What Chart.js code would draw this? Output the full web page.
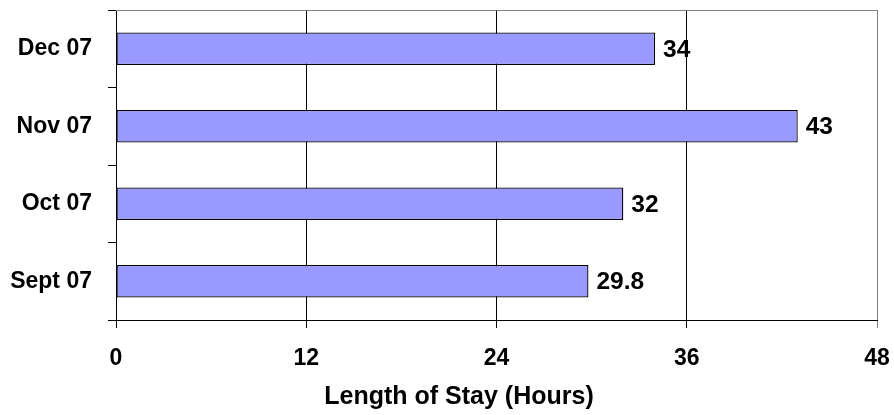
<!DOCTYPE html>
<html>
<head>
<meta charset="utf-8">
<script src="https://cdn.jsdelivr.net/npm/chart.js@4/dist/chart.umd.min.js"></script>
<style>
  html, body { margin: 0; padding: 0; background: #fff; }
  #wrap { width: 894px; height: 415px; position: relative; }
</style>
</head>
<body>
<div id="wrap"><canvas id="c"></canvas></div>
<script>
// Monthly average length of stay, newest month on top
const months = ['Dec 07', 'Nov 07', 'Oct 07', 'Sept 07'];
const stayHours = [34, 43, 32, 29.8];
const xTicks = [0, 12, 24, 36, 48];
const axisTitle = 'Length of Stay (Hours)';

const FONT = '"Liberation Sans", Arial, Helvetica, sans-serif';

// Keep the plot area fixed: drop the extra room scales ask for around edge labels
function clearEdgePadding(scale) {
  scale.paddingTop = 0;
  scale.paddingBottom = 0;
  scale.paddingLeft = 0;
  scale.paddingRight = 0;
}

// Gray frame along the top of the plot area
const topFrame = {
  id: 'topFrame',
  beforeDatasetsDraw(chart) {
    const { ctx, chartArea: a } = chart;
    ctx.save();
    ctx.strokeStyle = '#808080';
    ctx.lineWidth = 1;
    ctx.beginPath();
    ctx.moveTo(a.left, a.top + 0.5);
    ctx.lineTo(a.right + 0.5, a.top + 0.5);
    ctx.stroke();
    ctx.restore();
  }
};

// Value written just past the end of each bar
const valueLabels = {
  id: 'valueLabels',
  afterDatasetsDraw(chart) {
    const { ctx } = chart;
    const meta = chart.getDatasetMeta(0);
    const data = chart.data.datasets[0].data;
    ctx.save();
    ctx.font = 'bold 24.5px ' + FONT;
    ctx.fillStyle = '#000';
    ctx.textAlign = 'left';
    ctx.textBaseline = 'middle';
    meta.data.forEach((bar, i) => {
      ctx.fillText(String(data[i]), bar.x + 8, bar.y + 1);
    });
    ctx.restore();
  }
};

// Value-axis caption, centred under the whole chart rather than the plot area
const xCaption = {
  id: 'xCaption',
  afterDraw(chart) {
    const { ctx, width } = chart;
    ctx.save();
    ctx.font = 'bold 25px ' + FONT;
    ctx.fillStyle = '#000';
    ctx.textAlign = 'center';
    ctx.textBaseline = 'middle';
    ctx.fillText(axisTitle, width / 2 + 12, 397);
    ctx.restore();
  }
};

new Chart(document.getElementById('c'), {
  type: 'bar',
  data: {
    labels: months,
    datasets: [{
      data: stayHours,
      backgroundColor: '#9999FF',
      borderColor: '#000000',
      borderWidth: 1.3,
      borderSkipped: false,
      barPercentage: 0.42,
      categoryPercentage: 1
    }]
  },
  options: {
    indexAxis: 'y',
    responsive: true,
    maintainAspectRatio: false,
    animation: false,
    layout: { padding: { top: 10, right: 17, bottom: 0, left: 0 } },
    plugins: {
      legend: { display: false },
      tooltip: { enabled: false }
    },
    scales: {
      x: {
        min: 0,
        max: 48,
        afterBuildTicks(scale) {
          scale.ticks = xTicks.map(v => ({ value: v }));
        },
        afterFit(scale) {
          scale.height = 95;
          clearEdgePadding(scale);
        },
        grid: {
          drawOnChartArea: true,
          drawTicks: true,
          tickLength: 8,
          lineWidth: 1,
          color: ctx => (ctx.tick && ctx.tick.value === 48) ? '#808080' : '#000000'
        },
        border: { display: true, color: '#000000', width: 1 },
        ticks: {
          padding: 17,
          color: '#000',
          font: { family: FONT, size: 23, weight: 'bold' }
        },
        title: { display: false }
      },
      y: {
        afterFit(scale) {
          scale.width = 116;
          clearEdgePadding(scale);
        },
        grid: {
          offset: true,
          drawOnChartArea: false,
          drawTicks: true,
          tickLength: 8,
          color: '#000000',
          lineWidth: 1
        },
        border: { display: true, color: '#000000', width: 1 },
        ticks: {
          padding: 16,
          color: '#000',
          font: { family: FONT, size: 23, weight: 'bold' }
        }
      }
    }
  },
  plugins: [topFrame, valueLabels, xCaption]
});
</script>
</body>
</html>
